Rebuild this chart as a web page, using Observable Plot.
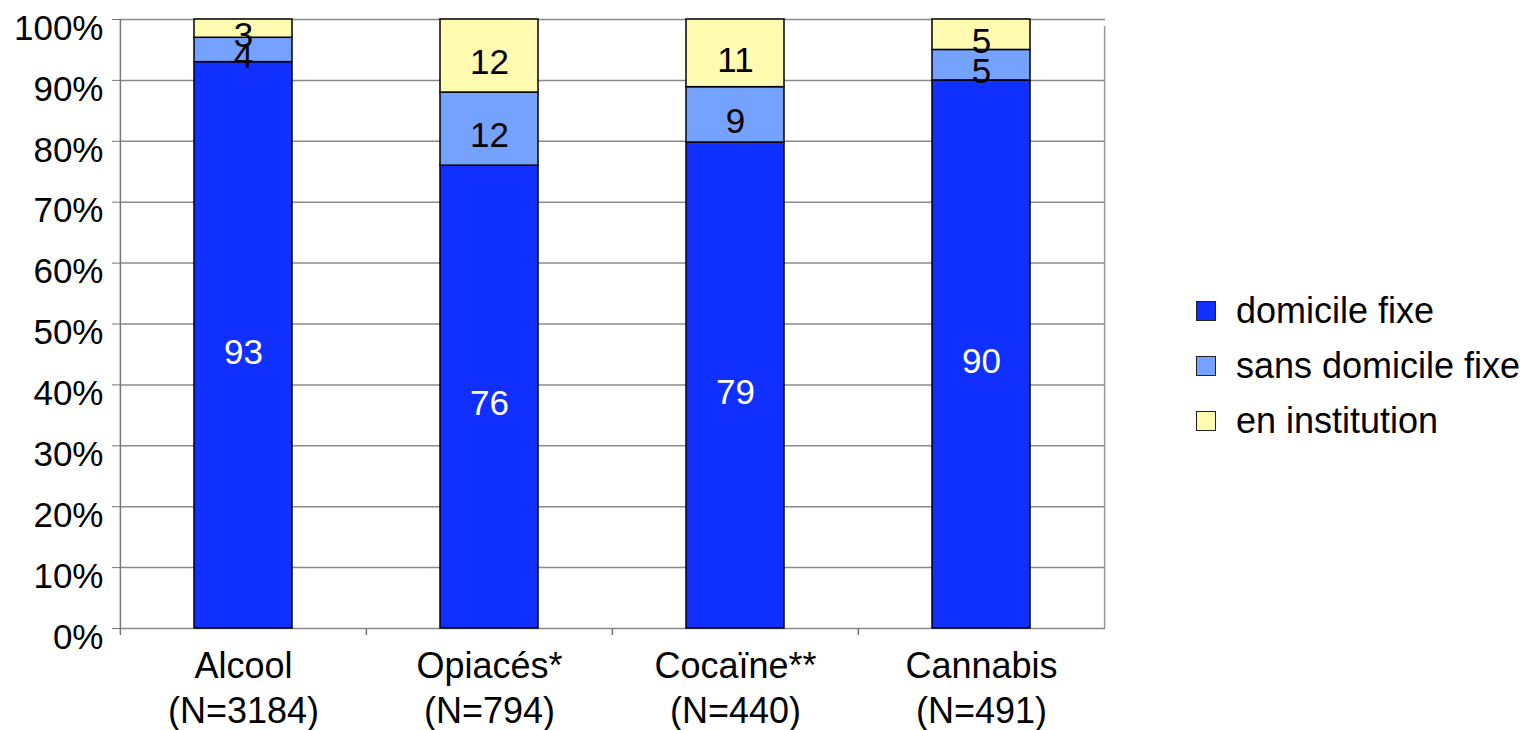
<!DOCTYPE html>
<html><head><meta charset="utf-8">
<script src="https://cdn.jsdelivr.net/npm/d3@7"></script>
<script src="https://cdn.jsdelivr.net/npm/@observablehq/plot@0.6"></script>
<style>
body{margin:0;background:#fff;font-family:"Liberation Sans",Arial,sans-serif;}
#wrap{position:relative;width:1534px;height:730px;}
#wrap svg{position:absolute;left:0;top:0;z-index:0;}
#legend{position:absolute;left:1196px;top:283px;z-index:1;}
.row{display:flex;align-items:center;height:55px;font-size:36px;color:#000;white-space:nowrap;}
.sw{width:20px;height:20px;border:1.5px solid #222;margin-right:20px;box-sizing:border-box;}
</style></head><body>
<div id="wrap"></div>
<script>
const categories = ["Alcool\n(N=3184)", "Opiacés*\n(N=794)", "Cocaïne**\n(N=440)", "Cannabis\n(N=491)"];
const series = ["domicile fixe", "sans domicile fixe", "en institution"];
const domicileFixe = [93, 76, 79, 90];
const sansDomicileFixe = [4, 12, 9, 5];
const enInstitution = [3, 12, 11, 5];
const colors = ["#1030ff", "#75a2ff", "#fffbb0"];
const yTicks = [0, 0.1, 0.2, 0.3, 0.4, 0.5, 0.6, 0.7, 0.8, 0.9, 1];

const seriesValues = [domicileFixe, sansDomicileFixe, enInstitution];
const data = [];
categories.forEach((c, i) => {
  series.forEach((s, j) => data.push({category: c, series: s, value: seriesValues[j][i]}));
});

const W = 1534, H = 730, mL = 120, mR = 429, mT = 19, mB = 102;
const step = (W - mL - mR) / categories.length;
const font = "Liberation Sans, Arial, sans-serif";

const stackOpts = {x: "category", y: "value", offset: "normalize"};

const chart = Plot.plot({
  width: W, height: H,
  marginLeft: mL, marginRight: mR, marginTop: mT, marginBottom: mB,
  style: {fontFamily: font, fontSize: "35px", color: "#000", background: "white"},
  x: {domain: categories, paddingInner: 0.6, paddingOuter: 0.3, label: null},
  y: {domain: [0, 1], label: null},
  color: {domain: series, range: colors},
  marks: [
    Plot.ruleY(yTicks, {stroke: "#8a8a8a", strokeWidth: 1.5}),
    Plot.ruleX([categories[categories.length - 1]], {x: d => d, dx: step / 2, y1: 0, y2: 1, insetBottom: -7, stroke: "#9a9a9a", strokeWidth: 1.5}),
    Plot.ruleX(categories, {x: d => d, dx: -step / 2, y1: 0, y2: 0, insetBottom: -7, stroke: "#777", strokeWidth: 1.5}),
    Plot.ruleX([categories[0]], {x: d => d, dx: -step / 2, y1: 0, y2: 1, stroke: "#777", strokeWidth: 1.5}),
    Plot.barY(data, Plot.stackY({...stackOpts, fill: "series", stroke: "#000", strokeWidth: 1.5})),
    Plot.text(data, Plot.stackY({...stackOpts, text: d => d.series === series[0] ? String(d.value) : null, fill: "white", dy: 7, fontSize: 35})),
    Plot.text(data, Plot.stackY({...stackOpts, text: d => d.series !== series[0] ? String(d.value) : null, fill: "black", dy: 7, fontSize: 35})),
    Plot.axisY({ticks: yTicks, tickFormat: () => "", tickSize: 8, stroke: "#777"}),
    Plot.axisY({ticks: yTicks, tickFormat: d3.format(".0%"), tickSize: 0, tickPadding: 17, dy: 9, fontSize: 35}),
    Plot.axisX({tickSize: 0, tickPadding: 18, lineHeight: 1.25, fontSize: 36})
  ]
});
const wrap = document.getElementById("wrap");
wrap.appendChild(chart);

const legend = document.createElement("div");
legend.id = "legend";
series.forEach((s, j) => {
  const row = document.createElement("div");
  row.className = "row";
  const sw = document.createElement("div");
  sw.className = "sw";
  sw.style.background = colors[j];
  const t = document.createElement("span");
  t.textContent = s;
  row.appendChild(sw); row.appendChild(t);
  legend.appendChild(row);
});
wrap.appendChild(legend);
</script>
</body></html>
